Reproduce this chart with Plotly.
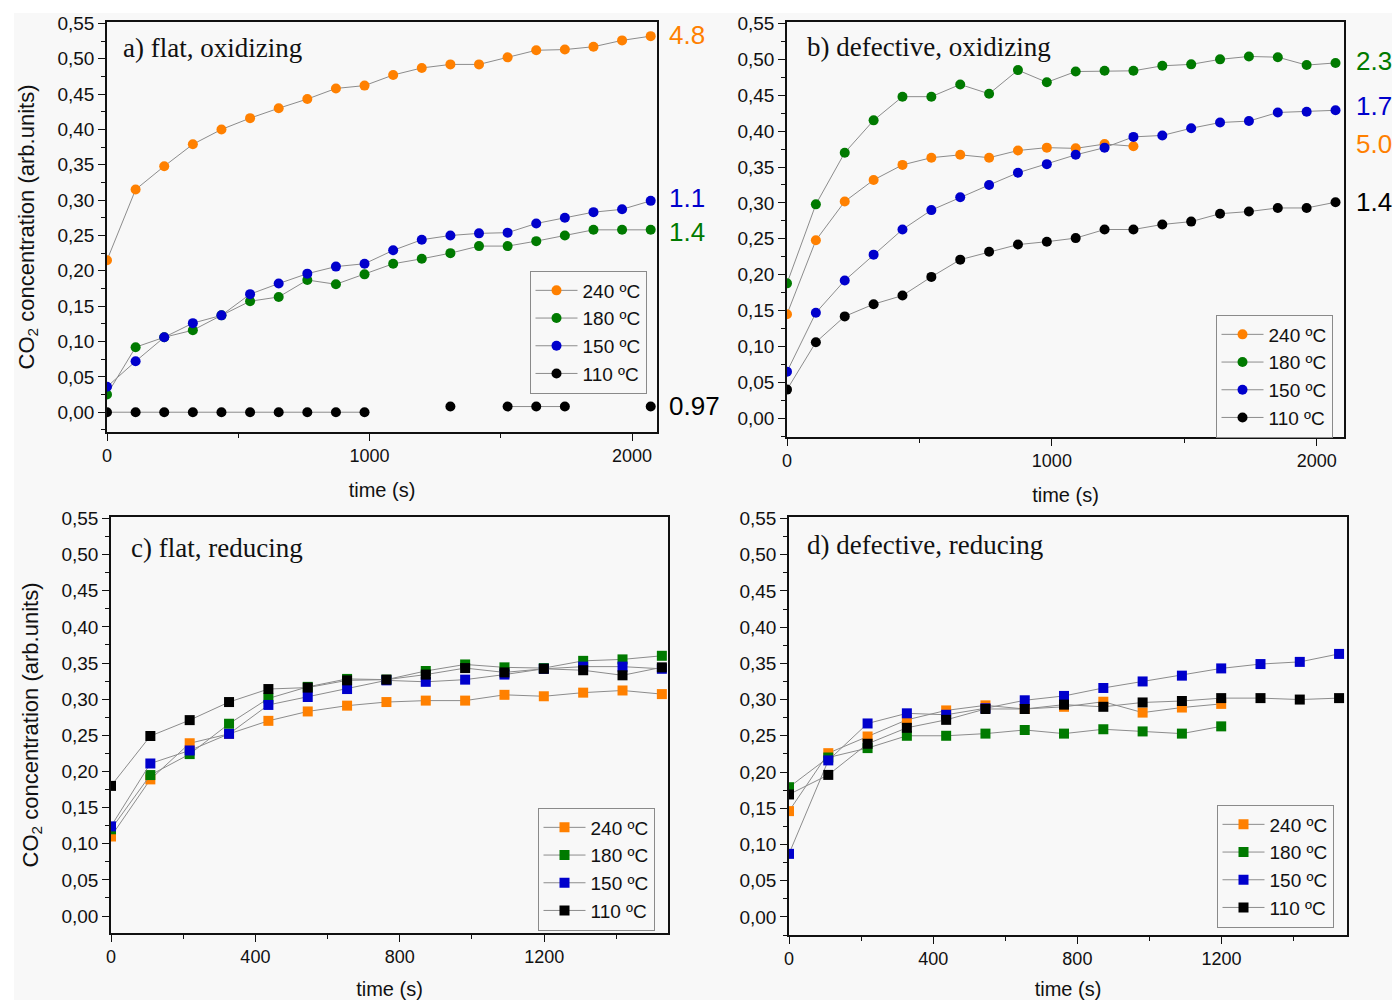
import plotly.graph_objects as go

W, H = 1397, 1000

# ---------------- data ----------------
temps = ["240 ºC", "180 ºC", "150 ºC", "110 ºC"]
colors = ["#ff8000", "#007a00", "#0000cc", "#000000"]

t_ox = [0, 109, 218, 327, 436, 545, 654, 763, 872, 981, 1090, 1199, 1308, 1417,
        1526, 1635, 1744, 1853, 1962, 2071]
t_red = [0, 109, 218, 327, 436, 545, 654, 763, 872, 981, 1090, 1199, 1308, 1417, 1526]

# a) flat, oxidizing
a_240 = [0.215, 0.315, 0.348, 0.379, 0.400, 0.416, 0.430, 0.443, 0.458, 0.462,
         0.477, 0.487, 0.492, 0.492, 0.502, 0.512, 0.513, 0.517, 0.526, 0.532]
a_180 = [0.025, 0.092, 0.106, 0.116, 0.137, 0.157, 0.163, 0.187, 0.181, 0.195,
         0.210, 0.217, 0.225, 0.235, 0.235, 0.242, 0.250, 0.258, 0.258, 0.258]
a_150 = [0.036, 0.072, 0.106, 0.126, 0.137, 0.167, 0.182, 0.196, 0.206, 0.210,
         0.229, 0.244, 0.250, 0.253, 0.254, 0.267, 0.275, 0.283, 0.287, 0.299]
a_110 = [0.0, 0.0, 0.0, 0.0, 0.0, 0.0, 0.0, 0.0, 0.0, 0.0,
         None, None, 0.008, None, 0.008, 0.008, 0.008, None, None, 0.008]

# b) defective, oxidizing
b_240 = [0.145, 0.248, 0.302, 0.332, 0.353, 0.363, 0.367, 0.363, 0.373, 0.377,
         0.376, 0.382, 0.379]
b_180 = [0.188, 0.298, 0.370, 0.415, 0.448, 0.448, 0.465, 0.452, 0.485, 0.468,
         0.483, 0.484, 0.484, 0.491, 0.493, 0.500, 0.504, 0.503, 0.492, 0.495]
b_150 = [0.065, 0.147, 0.192, 0.228, 0.263, 0.290, 0.308, 0.325, 0.342, 0.354,
         0.367, 0.377, 0.392, 0.394, 0.404, 0.412, 0.414, 0.426, 0.427, 0.429]
b_110 = [0.040, 0.106, 0.142, 0.159, 0.171, 0.197, 0.221, 0.232, 0.242, 0.246,
         0.251, 0.263, 0.263, 0.270, 0.274, 0.285, 0.288, 0.293, 0.293, 0.301]

# c) flat, reducing
c_240 = [0.110, 0.189, 0.239, 0.252, 0.270, 0.283, 0.291, 0.296, 0.298, 0.298,
         0.306, 0.304, 0.309, 0.312, 0.307]
c_180 = [0.120, 0.195, 0.224, 0.266, 0.301, 0.317, 0.328, 0.327, 0.339, 0.348,
         0.344, 0.343, 0.353, 0.355, 0.360]
c_150 = [0.124, 0.211, 0.229, 0.252, 0.292, 0.303, 0.314, 0.326, 0.324, 0.327,
         0.334, 0.342, 0.345, 0.345, 0.342]
c_110 = [0.180, 0.249, 0.271, 0.296, 0.314, 0.316, 0.326, 0.327, 0.334, 0.343,
         0.337, 0.342, 0.340, 0.333, 0.344]

# d) defective, reducing
d_240 = [0.146, 0.226, 0.249, 0.272, 0.285, 0.292, 0.287, 0.290, 0.297, 0.282,
         0.289, 0.294]
d_180 = [0.179, 0.220, 0.233, 0.250, 0.250, 0.253, 0.258, 0.253, 0.259, 0.256,
         0.253, 0.263]
d_150 = [0.087, 0.216, 0.267, 0.281, 0.279, 0.288, 0.299, 0.305, 0.316, 0.325,
         0.333, 0.343, 0.349, 0.352, 0.363]
d_110 = [0.169, 0.196, 0.239, 0.261, 0.272, 0.287, 0.287, 0.293, 0.290, 0.296,
         0.298, 0.302, 0.302, 0.300, 0.302]

panel_titles = ["a) flat, oxidizing", "b) defective, oxidizing",
                "c) flat, reducing", "d) defective, reducing"]
a_ratios = ["4.8", "1.4", "1.1", "0.97"]
b_ratios = ["5.0", "2.3", "1.7", "1.4"]

y_ticks = [0.00, 0.05, 0.10, 0.15, 0.20, 0.25, 0.30, 0.35, 0.40, 0.45, 0.50, 0.55]

# ---------------- layout helpers ----------------
def px_x(x):
    return x / W

def px_y(y):
    return 1 - y / H

# panel frames in pixels: (left, right, top, bottom)
frames = {
    "a": (107, 657, 22, 432),
    "b": (787, 1344, 22, 437),
    "c": (111, 668, 517, 933),
    "d": (789, 1347, 517, 935),
}
xranges = {"a": [0, 2095], "b": [0, 2103], "c": [0, 1543], "d": [0, 1548]}
yranges = {"a": [-0.028, 0.552], "b": [-0.026, 0.552],
           "c": [-0.0235, 0.552], "d": [-0.025, 0.552]}
xdticks = {"a": 1000, "b": 1000, "c": 400, "d": 400}
legend_center = {"a": (588, 332), "b": (1274, 376), "c": (596, 869), "d": (1275, 866)}

fig = go.Figure()

series = {
    "a": (t_ox, [a_240, a_180, a_150, a_110], "circle"),
    "b": (t_ox, [b_240, b_180, b_150, b_110], "circle"),
    "c": (t_red, [c_240, c_180, c_150, c_110], "square"),
    "d": (t_red, [d_240, d_180, d_150, d_110], "square"),
}
legend_names = {"a": "legend", "b": "legend2", "c": "legend3", "d": "legend4"}
axis_ids = {"a": ("x", "y"), "b": ("x2", "y2"), "c": ("x3", "y3"), "d": ("x4", "y4")}

for key, (tt, ys, sym) in series.items():
    xa, ya = axis_ids[key]
    for name, col, yv in zip(temps, colors, ys):
        fig.add_trace(go.Scatter(
            x=tt[:len(yv)], y=yv, name=name, mode="lines+markers",
            line=dict(color="#8c8c8c", width=1),
            marker=dict(symbol=sym, size=10, color=col, line=dict(width=0)),
            xaxis=xa, yaxis=ya, legend=legend_names[key], connectgaps=False,
        ))

layout = dict(
    template="none",
    width=W, height=H, margin=dict(l=0, r=0, t=0, b=0, autoexpand=False),
    paper_bgcolor="#ffffff", plot_bgcolor="rgba(0,0,0,0)",
    separators=",.",
    font=dict(family="Liberation Sans, Arial", color="#111111"),
    showlegend=True,
)

for key in ["a", "b", "c", "d"]:
    l, r, t, b = frames[key]
    xa, ya = axis_ids[key]
    xname = "xaxis" + xa[1:]
    yname = "yaxis" + ya[1:]
    layout[xname] = dict(
        domain=[px_x(l), px_x(r)], range=xranges[key], anchor=ya, automargin=False,
        showline=True, linecolor="#111111", linewidth=1.6, mirror=True,
        showgrid=False, zeroline=False,
        ticks="outside", ticklen=7, tickwidth=1.3, tickcolor="#111111",
        tickmode="linear", tick0=0, dtick=xdticks[key], tickformat="d",
        tickfont=dict(size=18, color="#111111"),
        minor=dict(ticks="outside", ticklen=4, tickwidth=1.2, tickcolor="#111111",
                   dtick=xdticks[key] / 2, tick0=0, showgrid=False),
        title=dict(text="time (s)", font=dict(size=20, color="#111111"), standoff=18),
    )
    layout[yname] = dict(
        domain=[px_y(b), px_y(t)], range=yranges[key], anchor=xa, automargin=False,
        showline=True, linecolor="#111111", linewidth=1.6, mirror=True,
        showgrid=False, zeroline=False,
        ticks="outside", ticklen=7, tickwidth=1.3, tickcolor="#111111",
        tickmode="array", tickvals=y_ticks, tickformat=".2f",
        tickfont=dict(size=19, color="#111111"),
        minor=dict(ticks="outside", ticklen=4, tickwidth=1.2, tickcolor="#111111",
                   dtick=0.025, tick0=0, showgrid=False),
    )
    if key in ("a", "c"):
        layout[yname]["title"] = dict(
            text="CO<sub>2</sub> concentration (arb.units)",
            font=dict(size=22, color="#111111"), standoff=17)
    cx, cy = legend_center[key]
    layout[legend_names[key]] = dict(
        x=px_x(cx), y=px_y(cy), xanchor="center", yanchor="middle",
        bgcolor="rgba(0,0,0,0)", bordercolor="#8a8a8a", borderwidth=1,
        font=dict(size=19, color="#111111"), itemwidth=42,
        tracegroupgap=0,
    )

fig.update_layout(**layout)

# background panel (light grey, with white strip at left/top like the reference)
fig.add_shape(type="rect", xref="paper", yref="paper",
              x0=px_x(14), x1=px_x(1392), y0=0, y1=px_y(13),
              fillcolor="#f8f8f8", line=dict(width=0), layer="below")

# panel titles
title_pos = [(121, 48), (805, 47), (129, 548), (805, 545)]
for txt, (x, y) in zip(panel_titles, title_pos):
    fig.add_annotation(text=txt, xref="paper", yref="paper", x=px_x(x), y=px_y(y),
                       xanchor="left", yanchor="middle", showarrow=False,
                       font=dict(family="Liberation Serif, Times New Roman", size=27,
                                 color="#111111"))

# ratio labels next to panels a and b
a_lab_y = [35, 232, 198, 406]
for txt, col, y in zip(a_ratios, colors, a_lab_y):
    fig.add_annotation(text=txt, xref="paper", yref="paper", x=px_x(667), y=px_y(y),
                       xanchor="left", yanchor="middle", showarrow=False,
                       font=dict(size=26, color=col))
b_lab_y = [144, 61, 106, 202]
for txt, col, y in zip(b_ratios, colors, b_lab_y):
    fig.add_annotation(text=txt, xref="paper", yref="paper", x=px_x(1354), y=px_y(y),
                       xanchor="left", yanchor="middle", showarrow=False,
                       font=dict(size=26, color=col))

fig.write_html("out.html")
